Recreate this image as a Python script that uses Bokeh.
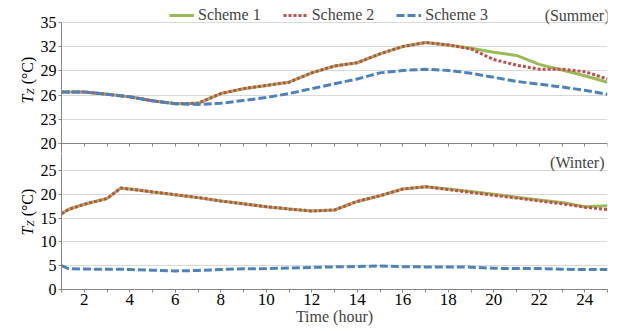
import math
from bokeh.plotting import figure
from bokeh.layouts import column, row
from bokeh.models import Range1d, FixedTicker, Label, Legend, LegendItem, LinearAxis
from bokeh.core.properties import value
from bokeh.embed import file_html
from bokeh.resources import INLINE

# ---------------- data ----------------
series_names = ["Scheme 1", "Scheme 2", "Scheme 3"]

hours_summer = list(range(1, 26))
summer_scheme1 = [26.4, 26.4, 26.1, 25.8, 25.3, 24.95, 25.0, 26.2, 26.8, 27.2, 27.6, 28.75, 29.6, 30.0, 31.1,
                  32.0, 32.5, 32.2, 31.8, 31.3, 30.9, 29.8, 29.1, 28.4, 27.6]
summer_scheme2 = [26.4, 26.4, 26.1, 25.8, 25.3, 24.95, 25.0, 26.2, 26.8, 27.2, 27.6, 28.75, 29.6, 30.0, 31.1,
                  32.0, 32.5, 32.2, 31.7, 30.4, 29.7, 29.2, 29.2, 28.9, 28.0]
summer_scheme3 = [26.4, 26.4, 26.1, 25.8, 25.3, 24.95, 24.85, 25.0, 25.35, 25.7, 26.2, 26.8, 27.4, 28.0, 28.75,
                  29.05, 29.2, 29.05, 28.7, 28.2, 27.7, 27.35, 27.0, 26.6, 26.1]

hours_winter = [1, 1.3, 2, 3, 3.6, 4, 5, 6, 7, 8, 9, 10, 11, 12, 13, 14, 15, 16, 17, 18, 19, 20, 21, 22, 23, 24, 25]
winter_scheme1 = [15.9, 16.8, 17.9, 19.1, 21.3, 21.1, 20.5, 19.9, 19.3, 18.6, 18.0, 17.4, 16.9, 16.5, 16.7,
                  18.5, 19.7, 21.1, 21.6, 21.1, 20.6, 20.0, 19.4, 18.8, 18.3, 17.4, 17.6]
winter_scheme2 = [15.9, 16.8, 17.9, 19.1, 21.3, 21.1, 20.5, 19.9, 19.3, 18.6, 18.0, 17.4, 16.9, 16.5, 16.7,
                  18.5, 19.7, 21.1, 21.6, 21.0, 20.4, 19.8, 19.2, 18.6, 18.0, 17.3, 16.8]
winter_scheme3 = [5.0, 4.4, 4.3, 4.25, 4.25, 4.2, 4.05, 3.9, 4.0, 4.2, 4.35, 4.4, 4.5, 4.65, 4.75,
                  4.85, 4.95, 4.8, 4.75, 4.75, 4.7, 4.45, 4.4, 4.4, 4.25, 4.2, 4.2]

summer_y_ticks = [20, 23, 26, 29, 32, 35]
winter_y_ticks = [0, 5, 10, 15, 20, 25]
x_label_ticks = [2, 4, 6, 8, 10, 12, 14, 16, 18, 20, 22, 24]
x_minor_ticks = [1, 3, 5, 7, 9, 11, 13, 15, 17, 19, 21, 23, 25]

# ---------------- style ----------------
FONT = "Liberation Serif"
AX = "#868686"
GRID = "#d9d9d9"
GREEN = "#9BBB59"
RED = "#C0504D"
BLUE = "#4F81BD"

TITLE_W = 37
H_TOP = 153
H_BOT = 331 - H_TOP
BOT_BORDER = 42

x_range = Range1d(1, 25)
summer_range = Range1d(18.80, 37.68)
winter_range = Range1d(0, 28.57)


def style_axis(ax, size="16px", standoff=2):
    ax.axis_line_color = AX
    ax.major_tick_line_color = AX
    ax.minor_tick_line_color = AX
    ax.major_tick_in = 0
    ax.major_tick_out = 3
    ax.minor_tick_in = 0
    ax.minor_tick_out = 3
    ax.major_label_text_font = FONT
    ax.major_label_text_font_size = size
    ax.major_label_text_color = "black"
    ax.major_label_standoff = standoff


def style(p, yticks):
    p.outline_line_color = None
    p.ygrid.ticker = FixedTicker(ticks=yticks)
    p.ygrid.grid_line_color = GRID
    p.ygrid.grid_line_width = 1
    p.yaxis.ticker = FixedTicker(ticks=yticks)
    style_axis(p.yaxis[0])
    p.yaxis.minor_tick_line_color = None


def draw(p, xs, a, b, c):
    r1 = p.line(xs, a, line_color=GREEN, line_width=3)
    r2 = p.line(xs, b, line_color=RED, line_width=3, line_dash="3 2")
    r3 = p.line(xs, c, line_color=BLUE, line_width=3, line_dash="8 3")
    return r1, r2, r3


def title_fig(h, bottom_border, t_bottom):
    # narrow strip holding the rotated y-axis title; its data units are pixels
    # measured up from the strip's frame bottom. t_bottom = pixels from frame bottom to start of "T".
    fh = h - bottom_border
    t = figure(width=TITLE_W, height=h, x_range=Range1d(0, TITLE_W), y_range=Range1d(0, fh),
               x_axis_type=None, y_axis_type=None, output_backend="svg", toolbar_location=None,
               min_border_left=0, min_border_right=0, min_border_top=0,
               min_border_bottom=bottom_border, outline_line_color=None)
    t.grid.visible = False
    t.title.visible = False
    common = dict(angle=math.pi / 2, text_font=value(FONT), text_align="center",
                  text_baseline="middle", text_color="black")
    t.text(x=[26.5], y=[t_bottom + 4.5], text=["T"], text_font_style="italic",
           text_font_size=value("16px"), **common)
    t.text(x=[29.5], y=[t_bottom + 12], text=["Z"], text_font_style="italic",
           text_font_size=value("11px"), **common)
    t.text(x=[26.5], y=[t_bottom + 33], text=["(°C)"], text_font_size=value("16px"), **common)
    return t


# ---------------- summer panel ----------------
p1 = figure(width=628 - TITLE_W, height=H_TOP, x_range=x_range, y_range=summer_range, x_axis_type=None,
            output_backend="svg", toolbar_location=None,
            min_border_left=59 - TITLE_W, min_border_right=21, min_border_top=0, min_border_bottom=0)
style(p1, summer_y_ticks)
p1.xgrid.visible = False
p1.yaxis.bounds = (summer_range.start, 35)
top_xaxis = LinearAxis(fixed_location=20, bounds=(1, 25),
                       ticker=FixedTicker(ticks=[], minor_ticks=hours_summer))
style_axis(top_xaxis)
p1.add_layout(top_xaxis, "below")
r1, r2, r3 = draw(p1, hours_summer, summer_scheme1, summer_scheme2, summer_scheme3)

legend = Legend(items=[LegendItem(label=series_names[0], renderers=[r1]),
                       LegendItem(label=series_names[1], renderers=[r2]),
                       LegendItem(label=series_names[2], renderers=[r3])],
                orientation="horizontal", location=(108, H_TOP - 24),
                border_line_color=None, background_fill_alpha=0,
                padding=0, margin=0, spacing=22, glyph_width=25, glyph_height=18,
                label_height=18, label_standoff=4,
                label_text_font=FONT, label_text_font_size="16px")
p1.add_layout(legend)
p1.add_layout(Label(x=548, y=H_TOP - 15, x_units="screen", y_units="screen", text="(Summer)",
                    text_font=FONT, text_font_size="16px", text_align="right",
                    text_baseline="middle"))

# ---------------- winter panel ----------------
p2 = figure(width=628 - TITLE_W, height=H_BOT, x_range=x_range, y_range=winter_range,
            output_backend="svg", toolbar_location=None,
            min_border_left=59 - TITLE_W, min_border_right=21, min_border_top=0,
            min_border_bottom=BOT_BORDER)
style(p2, winter_y_ticks)
p2.xgrid.visible = False
p2.xaxis.ticker = FixedTicker(ticks=x_label_ticks, minor_ticks=x_minor_ticks)
style_axis(p2.xaxis[0], size="17px", standoff=1)
p2.xaxis.axis_label = "Time (hour)"
p2.xaxis.axis_label_text_font = FONT
p2.xaxis.axis_label_text_font_size = "16px"
p2.xaxis.axis_label_text_font_style = "normal"
p2.xaxis.axis_label_standoff = 0
draw(p2, hours_winter, winter_scheme1, winter_scheme2, winter_scheme3)
p2.add_layout(Label(x=543, y=127, x_units="screen", y_units="screen", text="(Winter)",
                    text_font=FONT, text_font_size="16px", text_align="right",
                    text_baseline="middle"))

# frame bottoms: top strip at page y=153, bottom strip at page y=289
t1 = title_fig(H_TOP, 0, H_TOP - 103)
t2 = title_fig(H_BOT, BOT_BORDER, (331 - BOT_BORDER) - 235)

layout = column(row(t1, p1), row(t2, p2))
open("out.html", "w").write(file_html(layout, INLINE))
